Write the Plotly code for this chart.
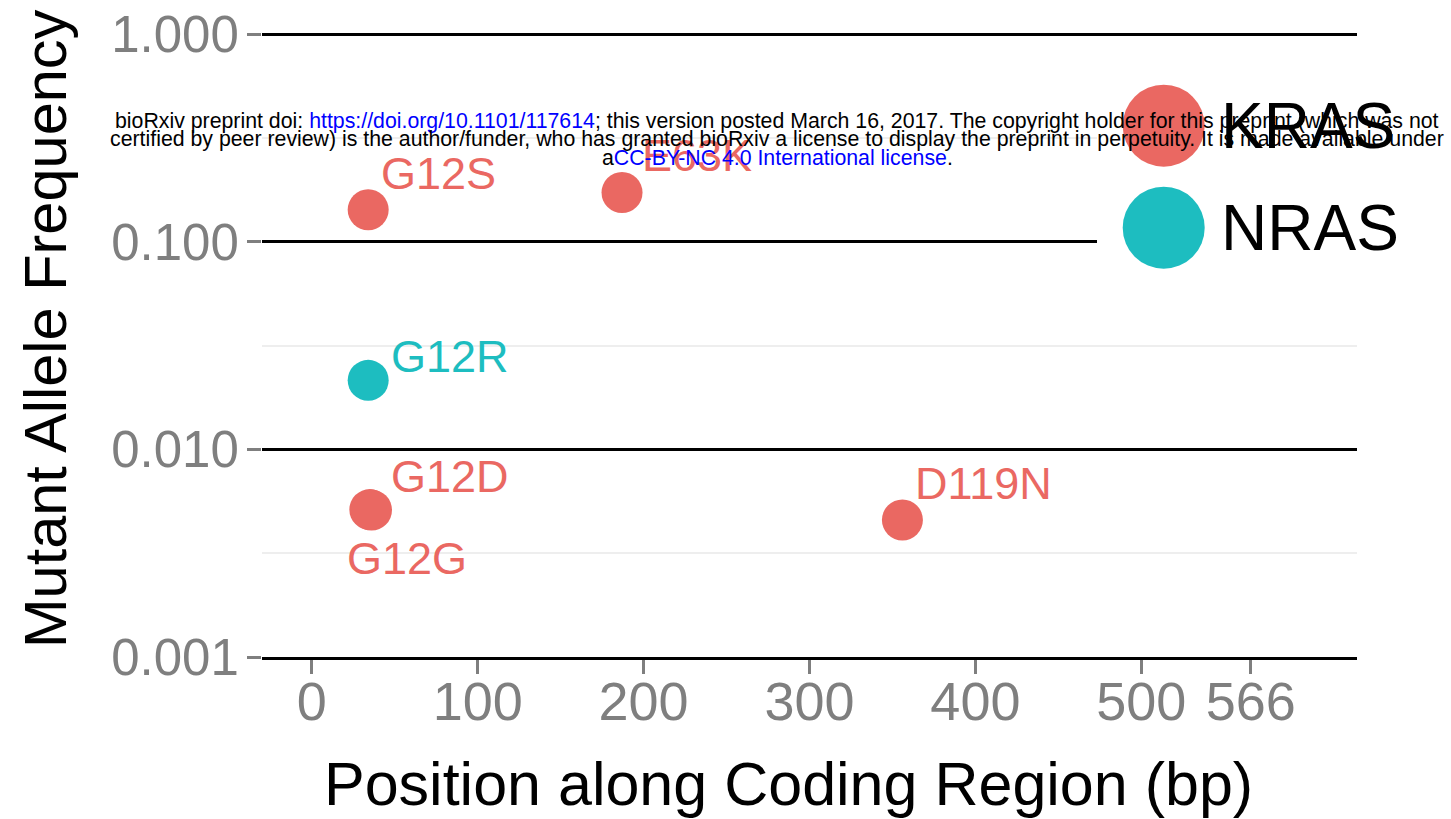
import math
import plotly.graph_objects as go

# ---------------- data ----------------
genes = ["KRAS", "NRAS"]
kras_mutations = ["G12S", "E63K", "G12D", "G12G", "D119N"]
kras_positions = [34, 187, 35, 36, 356]
kras_maf = [0.1426, 0.1726, 0.00513, 0.00510, 0.00457]
nras_mutations = ["G12R"]
nras_positions = [34]
nras_maf = [0.0215]

x_tick_vals = [0, 100, 200, 300, 400, 500, 566]
y_tick_vals = [0.001, 0.01, 0.1, 1.0]
y_tick_text = ["0.001", "0.010", "0.100", "1.000"]
y_minor_vals = [10 ** -2.5, 10 ** -1.5, 10 ** -0.5]

# ---------------- styling ----------------
FONT = "Liberation Sans, Arial, Helvetica, sans-serif"
colors = {"KRAS": "#EA6862", "NRAS": "#1DBDC0"}
# label offsets in pixels (dx, dy up-positive)
label_offsets = {
    "G12S": (70, 36), "E63K": (75, 37), "G12D": (80, 33),
    "G12G": (35, -48), "D119N": (81, 36), "G12R": (82, 24),
}

W, H = 1451, 819
ML, MR, MT, MB = 262, 94, 30, 162
PW, PH = W - ML - MR, H - MT - MB


def px_x(p):
    return (p - ML) / PW


def px_y(p):
    return (H - MB - p) / PH


fig = go.Figure()
series = [
    ("KRAS", kras_positions, kras_maf, kras_mutations),
    ("NRAS", nras_positions, nras_maf, nras_mutations),
]
for gene, xs, ys, labs in series:
    fig.add_trace(go.Scatter(
        x=xs, y=ys, mode="markers", name=gene,
        marker=dict(size=41, color=colors[gene], line=dict(width=0)),
        showlegend=False, hoverinfo="text", text=labs,
    ))

annotations = []
for gene, xs, ys, labs in series:
    for xv, yv, lab in zip(xs, ys, labs):
        dx, dy = label_offsets[lab]
        annotations.append(dict(
            x=xv, y=math.log10(yv), xref="x", yref="y", text=lab, showarrow=False,
            xshift=dx, yshift=dy, xanchor="center", yanchor="middle",
            font=dict(family=FONT, size=45, color=colors[gene]),
        ))

# custom legend
shapes = [dict(type="rect", xref="paper", yref="paper",
               x0=px_x(1097), x1=px_x(1440), y0=px_y(285), y1=px_y(70),
               fillcolor="white", line=dict(width=0), layer="above")]
for gene, cy in zip(genes, [125.7, 227.7]):
    shapes.append(dict(
        type="circle", xref="paper", yref="paper",
        xsizemode="pixel", ysizemode="pixel",
        xanchor=px_x(1163.7), yanchor=px_y(cy),
        x0=-41, x1=41, y0=-41, y1=41,
        fillcolor=colors[gene], line=dict(width=0), layer="above",
    ))
    annotations.append(dict(
        x=px_x(1219), y=px_y(cy), xref="paper", yref="paper", text=gene,
        showarrow=False, xanchor="left", yanchor="middle",
        font=dict(family=FONT, size=64, color="black"),
    ))

# axis titles
annotations.append(dict(
    x=px_x(788), y=px_y(784), xref="paper", yref="paper",
    text="Position along Coding Region (bp)", showarrow=False,
    xanchor="center", yanchor="middle",
    font=dict(family=FONT, size=61, color="black"),
))
annotations.append(dict(
    x=px_x(45), y=px_y(329), xref="paper", yref="paper",
    text="Mutant Allele Frequency", showarrow=False, textangle=-90,
    xanchor="center", yanchor="middle",
    font=dict(family=FONT, size=59.5, color="black"),
))

# bioRxiv watermark
BLUE = "#0000FF"
wm_lines = [
    'bioRxiv preprint doi: <span style="color:%s">https://doi.org/10.1101/117614</span>; '
    'this version posted March 16, 2017. The copyright holder for this preprint (which was not' % BLUE,
    'certified by peer review) is the author/funder, who has granted bioRxiv a license to display '
    'the preprint in perpetuity. It is made available under',
    'a<span style="color:%s">CC-BY-NC 4.0 International license</span>.' % BLUE,
]
for line, cy in zip(wm_lines, [121, 139, 158]):
    annotations.append(dict(
        x=px_x(777), y=px_y(cy), xref="paper", yref="paper", text=line,
        showarrow=False, xanchor="center", yanchor="middle",
        font=dict(family=FONT, size=21.3, color="black"),
    ))

fig.update_layout(
    width=W, height=H,
    margin=dict(l=ML, r=MR, t=MT, b=MB, pad=0, autoexpand=False),
    paper_bgcolor="white", plot_bgcolor="white",
    showlegend=False,
    shapes=shapes, annotations=annotations,
    xaxis=dict(
        range=[-30, 630], tickvals=x_tick_vals, ticktext=[str(v) for v in x_tick_vals],
        showgrid=False, zeroline=False, automargin=False,
        showline=True, linecolor="black", linewidth=2.8,
        ticks="outside", ticklen=14, tickwidth=2.5, tickcolor="#7F7F7F",
        tickfont=dict(family=FONT, size=54, color="#7F7F7F"),
        ticklabelstandoff=-19,
    ),
    yaxis=dict(
        type="log", range=[-3, 0.02], tickvals=y_tick_vals, ticktext=y_tick_text,
        showgrid=True, gridcolor="black", gridwidth=2.8,
        zeroline=False, showline=False, automargin=False,
        ticks="outside", ticklen=14, tickwidth=2.5, tickcolor="#7F7F7F",
        tickfont=dict(family=FONT, size=51, color="#7F7F7F"),
        ticklabelstandoff=-2,
        minor=dict(tickvals=y_minor_vals, showgrid=True, gridcolor="#EEEEEE",
                   gridwidth=2.2, ticks=""),
    ),
)

fig.write_html("out.html")
